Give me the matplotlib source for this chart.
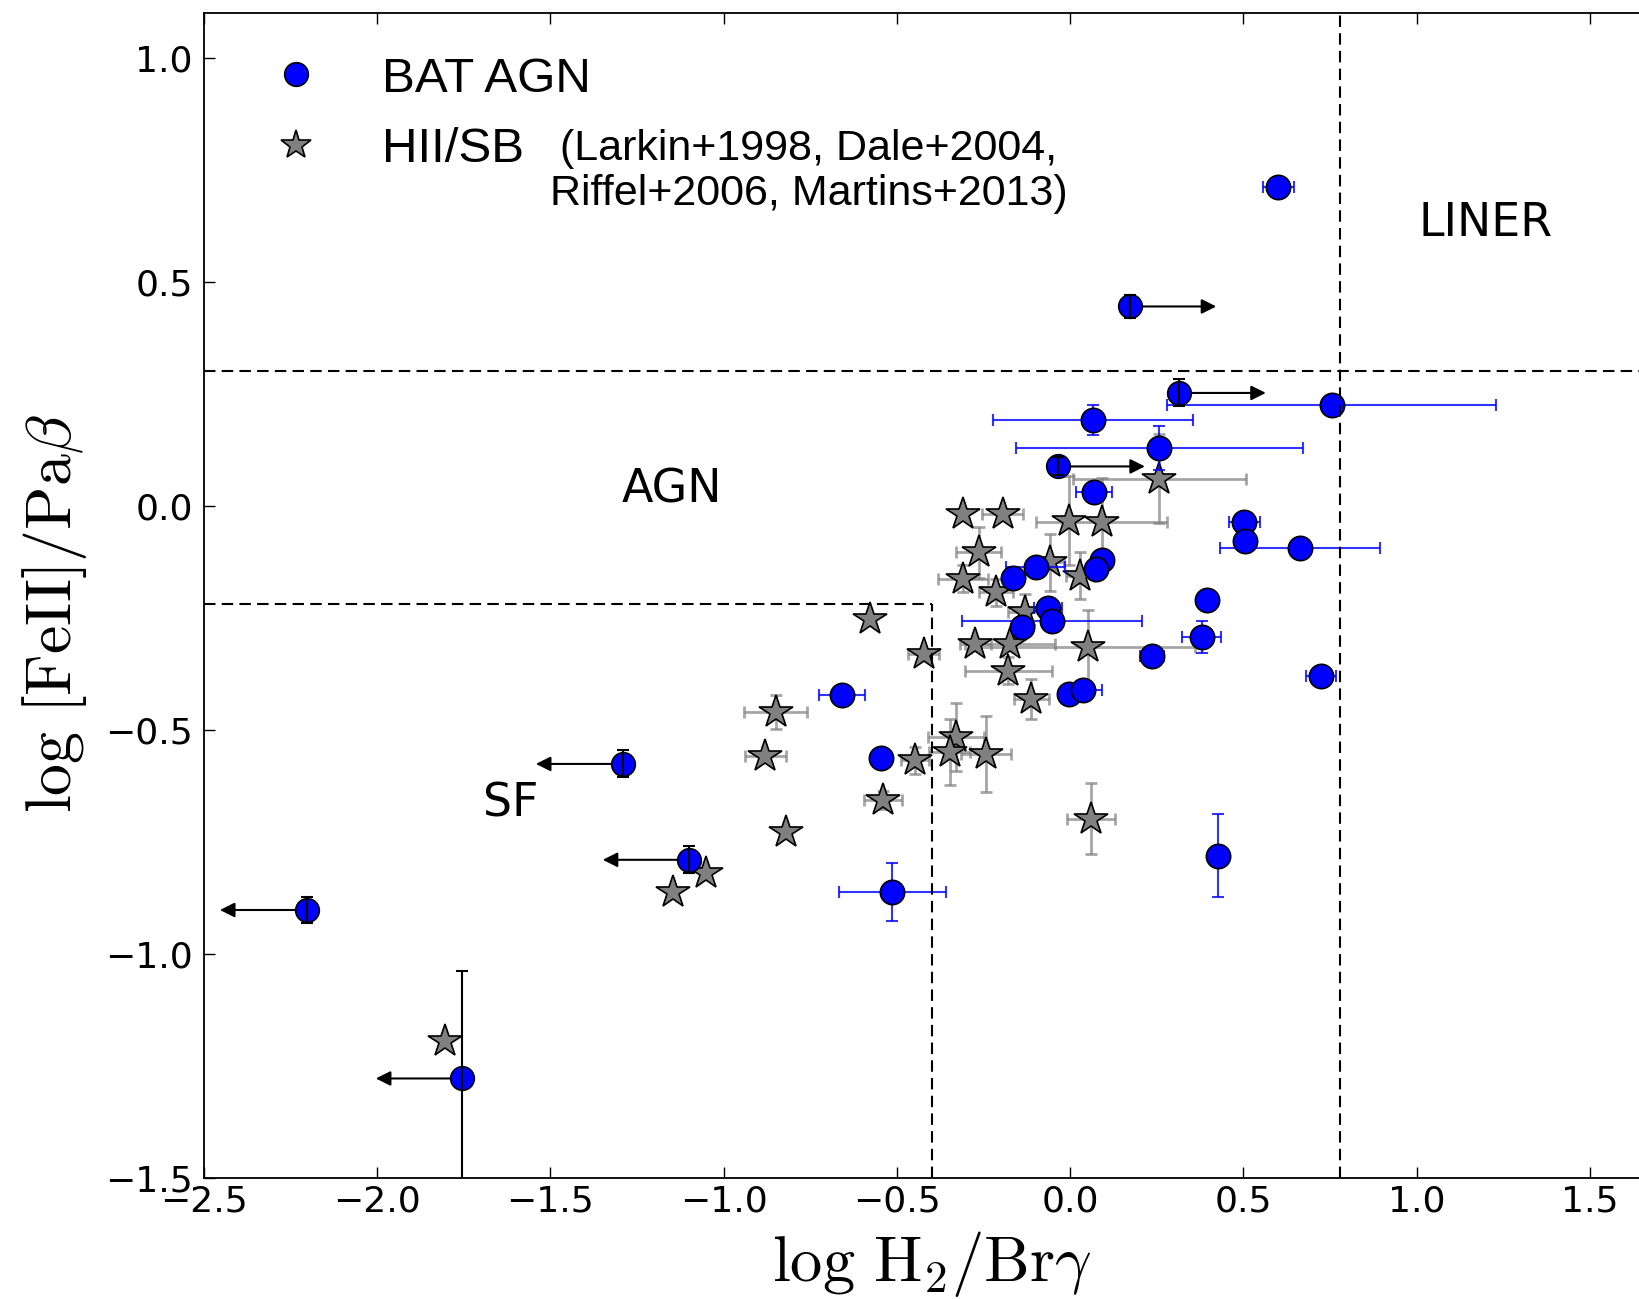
import matplotlib.pyplot as plt
from matplotlib.lines import Line2D
import numpy as np

plt.rcParams['font.family'] = ['DejaVu Sans']
plt.rcParams['mathtext.fontset'] = 'cm'

# BAT AGN detections: log H2/Brg, log [FeII]/Pab and errors
agn_x = [0.601, 0.755, 0.067, 0.258, 0.069, 0.503, 0.506, 0.664, 0.395, 0.380,
         0.236, 0.725, 0.426, -0.513, -0.547, -0.658, -0.099, -0.166, 0.091, 0.075,
         -0.063, -0.052, -0.139, -0.003, 0.036]
agn_y = [0.711, 0.224, 0.192, 0.129, 0.030, -0.037, -0.079, -0.093, -0.210, -0.292,
         -0.336, -0.380, -0.781, -0.861, -0.562, -0.422, -0.136, -0.161, -0.121, -0.140,
         -0.227, -0.256, -0.271, -0.420, -0.410]
agn_xerr = [0.045, 0.474, 0.289, 0.413, 0.052, 0.045, 0.0, 0.232, 0.0, 0.056,
            0.035, 0.043, 0.02, 0.155, 0.0, 0.067, 0.085, 0.0, 0.0, 0.03,
            0.04, 0.26, 0.0, 0.0, 0.055]
agn_yerr = [0.01, 0.01, 0.034, 0.05, 0.0, 0.0, 0.0, 0.0, 0.0, 0.036,
            0.0, 0.01, 0.093, 0.065, 0.0, 0.0, 0.0, 0.0, 0.0, 0.0,
            0.0, 0.0, 0.0, 0.0, 0.0]

# BAT AGN with limits on H2/Brg (+1 lower limit, -1 upper limit)
lim_x = [0.172, 0.315, -0.034, -1.292, -1.099, -2.204, -1.754]
lim_y = [0.445, 0.252, 0.088, -0.576, -0.790, -0.902, -1.278]
lim_yerr = [0.025, 0.03, 0.02, 0.03, 0.03, 0.03, 0.24]
lim_dir = [1, 1, 1, -1, -1, -1, -1]
arrow_len = 0.25

# HII / starburst galaxies from the literature
sb_x = [-0.310, -0.195, -0.263, -0.308, -0.214, -0.003, 0.091, 0.257, -0.057, 0.029,
        -0.130, -0.274, -0.173, 0.051, -0.178, -0.112, -0.329, -0.348, -0.242, -0.447,
        -0.577, -0.423, -0.539, 0.061, -0.850, -0.880, -0.820, -1.051, -1.147, -1.803]
sb_y = [-0.018, -0.018, -0.104, -0.163, -0.193, -0.033, -0.037, 0.061, -0.126, -0.156,
        -0.237, -0.308, -0.308, -0.316, -0.368, -0.431, -0.516, -0.550, -0.553, -0.568,
        -0.252, -0.330, -0.657, -0.698, -0.460, -0.559, -0.728, -0.819, -0.861, -1.194]
sb_xerr = [0.0, 0.06, 0.065, 0.072, 0.05, 0.0, 0.19, 0.25, 0.04, 0.04,
           0.05, 0.045, 0.13, 0.31, 0.125, 0.05, 0.08, 0.06, 0.072, 0.04,
           0.0, 0.044, 0.055, 0.069, 0.091, 0.059, 0.0, 0.0, 0.0, 0.0]
sb_yerr = [0.0, 0.0, 0.057, 0.03, 0.03, 0.1, 0.1, 0.1, 0.063, 0.052,
           0.04, 0.0, 0.0, 0.083, 0.03, 0.045, 0.075, 0.074, 0.085, 0.03,
           0.0, 0.0, 0.02, 0.08, 0.038, 0.0, 0.0, 0.0, 0.0, 0.0]

# diagnostic boundaries
sf_x, sf_y = -0.4, -0.22
agn_xmax, agn_ymax = 0.78, 0.30

fig = plt.figure(figsize=(16.4, 12.99), dpi=100)
ax = fig.add_axes([0.1244, 0.0932, 0.8872, 0.8968])

# HII/SB stars
ax.errorbar(sb_x, sb_y, xerr=sb_xerr, yerr=sb_yerr, fmt='none', ecolor='#808080',
            elinewidth=2, capsize=4, capthick=2, alpha=0.7, zorder=2)
ax.plot(sb_x, sb_y, ls='none', marker='*', ms=25, mfc='#808080', mec='k',
        mew=1.2, zorder=3)

# BAT AGN detections
ax.errorbar(agn_x, agn_y, xerr=agn_xerr, yerr=agn_yerr, fmt='none', ecolor='b',
            elinewidth=1.5, capsize=4, capthick=1.5, alpha=0.8, zorder=3.5)
ax.plot(agn_x, agn_y, ls='none', marker='o', ms=17.5, mfc='b', mec='k',
        mew=1.2, zorder=4)

# BAT AGN limits
for x, y, d in zip(lim_x, lim_y, lim_dir):
    ax.annotate('', xy=(x + d * arrow_len, y), xytext=(x, y),
                arrowprops=dict(arrowstyle='-|>,head_length=0.4,head_width=0.2',
                                mutation_scale=22, lw=1.5, color='k',
                                shrinkA=0, shrinkB=0), zorder=3.8)
ax.plot(lim_x, lim_y, ls='none', marker='o', ms=17, mfc='b', mec='k',
        mew=1.2, zorder=4)
ax.errorbar(lim_x, lim_y, yerr=lim_yerr, fmt='none', ecolor='k',
            elinewidth=1.5, capsize=4, capthick=1.5, zorder=4.5)

# region boundaries
dash = (0, (5.5, 3))
ax.axhline(agn_ymax, color='k', lw=1.5, ls=dash, zorder=5)
ax.axvline(agn_xmax, color='k', lw=1.5, ls=dash, zorder=5)
ax.plot([-2.5, sf_x], [sf_y, sf_y], color='k', lw=1.5, ls=dash, zorder=5)
ax.plot([sf_x, sf_x], [-1.5, sf_y], color='k', lw=1.5, ls=dash, zorder=5)

ax.text(1.2, 0.63, 'LINER', fontsize=33, ha='center', va='center')
ax.text(-1.15, 0.035, 'AGN', fontsize=33, ha='center', va='center')
ax.text(-1.615, -0.665, 'SF', fontsize=33, ha='center', va='center')

# legend
h_agn = Line2D([], [], ls='none', marker='o', ms=17, mfc='b', mec='k', mew=1.2)
h_sb = Line2D([], [], ls='none', marker='*', ms=22, mfc='#808080', mec='k', mew=1.2)
ax.legend([h_agn, h_sb], ['BAT AGN', 'HII/SB'], loc='upper left',
          bbox_to_anchor=(0.046, 0.9625), frameon=False, numpoints=1,
          borderpad=0, borderaxespad=0, handlelength=1.0, handletextpad=1.25,
          labelspacing=0.52, prop={'family': 'Liberation Sans', 'size': 35.5})
ax.text(0.4155, 0.864, '(Larkin+1998, Dale+2004,\nRiffel+2006, Martins+2013)',
        transform=ax.transAxes, ha='center', va='center', multialignment='center',
        fontsize=31, family='Liberation Sans', linespacing=1.17)

ax.set_xlim(-2.5, 1.7)
ax.set_ylim(-1.5, 1.1)
ax.set_xticks(np.arange(-2.5, 1.51, 0.5))
ax.set_yticks(np.arange(-1.5, 1.01, 0.5))
ax.tick_params(direction='in', length=8, width=1, top=True, right=True, labelsize=26)
ax.tick_params(axis='x', pad=5)
ax.tick_params(axis='y', pad=8)
for s in ax.spines.values():
    s.set_linewidth(1.3)

ax.set_xlabel(r'$\log\,\mathrm{H_2/Br}\gamma$', fontsize=46.5, labelpad=7)
ax.set_ylabel(r'$\log\,[\mathrm{FeII}]/\mathrm{Pa}\beta$', fontsize=46)
ax.yaxis.set_label_coords(-0.079, 0.484)

fig.savefig('out.png', dpi=100)
